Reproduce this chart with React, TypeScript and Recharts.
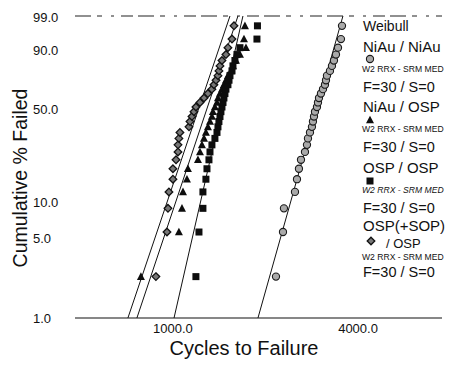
import { ComposedChart, ReferenceLine, Scatter, XAxis, YAxis } from 'recharts';

// median ranks (%) for 30 failures
const RANKS = [
  2.3, 5.59, 8.88, 12.17, 15.46, 18.75, 22.04, 25.33, 28.62, 31.91, 35.2, 38.49, 41.78, 45.07, 48.36,
  51.64, 54.93, 58.22, 61.51, 64.8, 68.09, 71.38, 74.67, 77.96, 81.25, 84.54, 87.83, 91.12, 94.41, 97.7,
];

// cycles to failure, one per rank
const NIAU_NIAU = [
  2131, 2246, 2262, 2457, 2494, 2531, 2570, 2648, 2688, 2708, 2749, 2790, 2811, 2833, 2854, 2897, 2919,
  2941, 2985, 3030, 3076, 3099, 3122, 3193, 3241, 3290, 3340, 3391, 3467, 3494,
];
const NIAU_OSP = [
  775, 1030, 1054, 1062, 1094, 1102, 1188, 1206, 1224, 1243, 1261, 1280, 1300, 1319, 1329, 1349, 1370,
  1380, 1401, 1422, 1443, 1465, 1487, 1521, 1544, 1579, 1627, 1702, 1677, 1689,
];
const OSP_OSP = [
  1170, 1197, 1233, 1233, 1261, 1271, 1290, 1300, 1319, 1349, 1370, 1380, 1390, 1401, 1411, 1422, 1433,
  1443, 1454, 1465, 1487, 1499, 1510, 1533, 1544, 1567, 1591, 1627, 1848, 1855,
];
const OSP_SOP = [
  867, 942, 949, 956, 985, 985, 1008, 1023, 1023, 1030, 1038, 1111, 1119, 1136, 1153, 1170, 1206, 1243,
  1280, 1319, 1339, 1360, 1380, 1390, 1401, 1422, 1465, 1487, 1533, 1556,
];

// weibull fit lines: cycles at 1% and 99%
const FIT_PCT = [1, 99];
const FIT_NIAU_NIAU = [1862, 3519];
const FIT_NIAU_OSP = [752, 1603];
const FIT_OSP_OSP = [993, 1664];
const FIT_OSP_SOP = [703, 1510];

const Y_TICKS = [1, 5, 10, 50, 90, 99];
const X_TICKS = [1000, 4000];
const X_DOMAIN = [473, 7390];

const FONT = '"Liberation Sans", Arial, Helvetica, sans-serif';

const weib = (p: number) => Math.log(-Math.log(1 - p / 100));
const toPoints = (cycles: number[]) => cycles.map((c, i) => ({ x: c, y: weib(RANKS[i]) }));
const fitSegment = (fit: number[]) => [
  { x: fit[0], y: weib(FIT_PCT[0]) },
  { x: fit[1], y: weib(FIT_PCT[1]) },
];

const CircleMark = ({ cx, cy }: any) => (
  <circle cx={cx} cy={cy} r={3.6} fill="#a9a9a9" stroke="#1a1a1a" strokeWidth={1.1} />
);
const TriMark = ({ cx, cy }: any) => (
  <polygon points={`${cx},${cy - 4.3} ${cx + 4},${cy + 3.3} ${cx - 4},${cy + 3.3}`} fill="#0d0d0d" />
);
const SquareMark = ({ cx, cy }: any) => (
  <rect x={cx - 3.5} y={cy - 3.5} width={7} height={7} fill="#0d0d0d" />
);
const DiamondMark = ({ cx, cy }: any) => (
  <polygon
    points={`${cx},${cy - 3.8} ${cx + 3.8},${cy} ${cx},${cy + 3.8} ${cx - 3.8},${cy}`}
    fill="#777"
    stroke="#111"
    strokeWidth={1.3}
  />
);

const XTick = ({ x, y, payload }: any) => (
  <text x={x - 2} y={y + 7} textAnchor="middle" fontSize={13} fill="#111" fontFamily={FONT}>
    {payload.value.toFixed(1)}
  </text>
);

const YTick = ({ y, payload }: any) => {
  const pct = (1 - Math.exp(-Math.exp(payload.value))) * 100;
  return (
    <text x={25} y={y + 5} textAnchor="start" fontSize={13} fill="#111" fontFamily={FONT}>
      {pct.toFixed(1)}
    </text>
  );
};

const LEGEND_W2 = 'W2 RRX - SRM MED';

function LegendBlock({ top, name, mark, italic }: { top: number; name: string; mark: any; italic?: boolean }) {
  return (
    <g fontFamily={FONT} fill="#111">
      <text x={355} y={top} fontSize={15}>{name}</text>
      {mark}
      <text x={354} y={top + 20} fontSize={8.6} fontStyle={italic ? 'italic' : 'normal'}>{LEGEND_W2}</text>
      <text x={355} y={top + 40} fontSize={14.5}>F=30 / S=0</text>
    </g>
  );
}

export default function App() {
  return (
    <div style={{ position: 'relative', width: 463, height: 362, background: '#fff' }}>
      <ComposedChart width={463} height={362} margin={{ top: 8, right: 29, bottom: 12, left: 0 }}>
        <XAxis
          dataKey="x"
          type="number"
          scale="log"
          domain={X_DOMAIN}
          ticks={X_TICKS}
          allowDataOverflow
          height={40}
          tickLine={false}
          axisLine={{ stroke: '#111', strokeWidth: 1.2 }}
          tick={<XTick />}
        />
        <YAxis
          dataKey="y"
          type="number"
          domain={[weib(1), weib(99)]}
          ticks={Y_TICKS.map(weib)}
          allowDataOverflow
          width={67}
          axisLine={false}
          tickLine={false}
          tick={<YTick />}
        />
        <ReferenceLine y={weib(99)} stroke="#222" strokeWidth={1.2} strokeDasharray="16 6 5 9 3 7 12 5" />
        <ReferenceLine segment={fitSegment(FIT_NIAU_NIAU)} stroke="#111" strokeWidth={1} />
        <ReferenceLine segment={fitSegment(FIT_NIAU_OSP)} stroke="#111" strokeWidth={1} />
        <ReferenceLine segment={fitSegment(FIT_OSP_OSP)} stroke="#111" strokeWidth={1} />
        <ReferenceLine segment={fitSegment(FIT_OSP_SOP)} stroke="#111" strokeWidth={1} />
        <Scatter data={toPoints(OSP_SOP)} shape={<DiamondMark />} isAnimationActive={false} />
        <Scatter data={toPoints(NIAU_OSP)} shape={<TriMark />} isAnimationActive={false} />
        <Scatter data={toPoints(OSP_OSP)} shape={<SquareMark />} isAnimationActive={false} />
        <Scatter data={toPoints(NIAU_NIAU)} shape={<CircleMark />} isAnimationActive={false} />
      </ComposedChart>
      <svg width={463} height={362} style={{ position: 'absolute', left: 0, top: 0, pointerEvents: 'none' }}>
        <text x={355} y={23} fontSize={14} fontFamily={FONT} fill="#111">Weibull</text>
        <LegendBlock top={44} name="NiAu / NiAu" mark={<CircleMark cx={362} cy={51} />} />
        <LegendBlock top={104} name="NiAu / OSP" mark={<TriMark cx={362} cy={112} />} />
        <LegendBlock top={165} name="OSP / OSP" mark={<SquareMark cx={362} cy={173} />} italic />
        <g fontFamily={FONT} fill="#111">
          <text x={355} y={223} fontSize={15}>OSP(+SOP)</text>
          <DiamondMark cx={363} cy={233} />
          <text x={378} y={240} fontSize={13}>/ OSP</text>
          <text x={354} y={252} fontSize={8.6}>{LEGEND_W2}</text>
          <text x={355} y={269} fontSize={14.5}>F=30 / S=0</text>
        </g>
        <text x={236} y={347} textAnchor="middle" fontSize={20} fontFamily={FONT} fill="#111">
          Cycles to Failure
        </text>
        <text
          x={19}
          y={170}
          transform="rotate(-90 19 170)"
          textAnchor="middle"
          fontSize={19.5}
          fontFamily={FONT}
          fill="#111"
        >
          Cumulative % Failed
        </text>
      </svg>
    </div>
  );
}
